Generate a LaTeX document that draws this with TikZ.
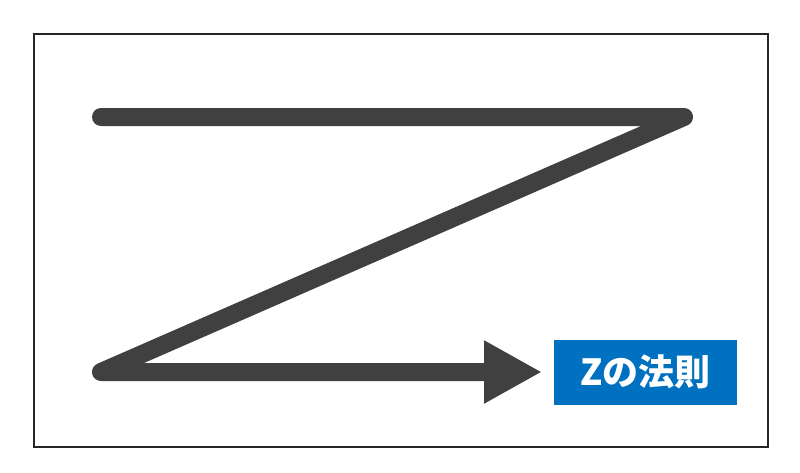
\documentclass[tikz,border=0pt]{standalone}
\usepackage{fontspec}
\newfontfamily\cjk{Noto Sans CJK JP}
\usetikzlibrary{positioning,arrows.meta}
\definecolor{ZGray}{RGB}{64,64,64}
\definecolor{LawBlue}{RGB}{0,112,192}

\begin{document}
\begin{tikzpicture}[x=1pt, y=-1pt,
    zline/.style={line width=18pt, ZGray, line cap=round, line join=round},
    lawbox/.style={fill=LawBlue, text=white, minimum width=183pt, minimum height=65pt,
      inner sep=0pt, font=\cjk\bfseries\fontsize{36}{40}\selectfont}]
  \useasboundingbox (0,0) rectangle (800,472);
  \draw[line width=1.5pt, black!85] (34,34) rectangle (768,447);
  % corners of the Z
  \coordinate (tl) at (101,117);
  \coordinate (tr) at (684,117);
  \coordinate (bl) at (101,372);
  \coordinate (tip) at (542,372);
  \draw[zline, -{Triangle[length=58pt, width=59pt]}] (tl) -- (tr) -- (bl) -- (tip);
  \node[lawbox, right=12pt of tip] (law) {Zの法則};
\end{tikzpicture}
\end{document}
